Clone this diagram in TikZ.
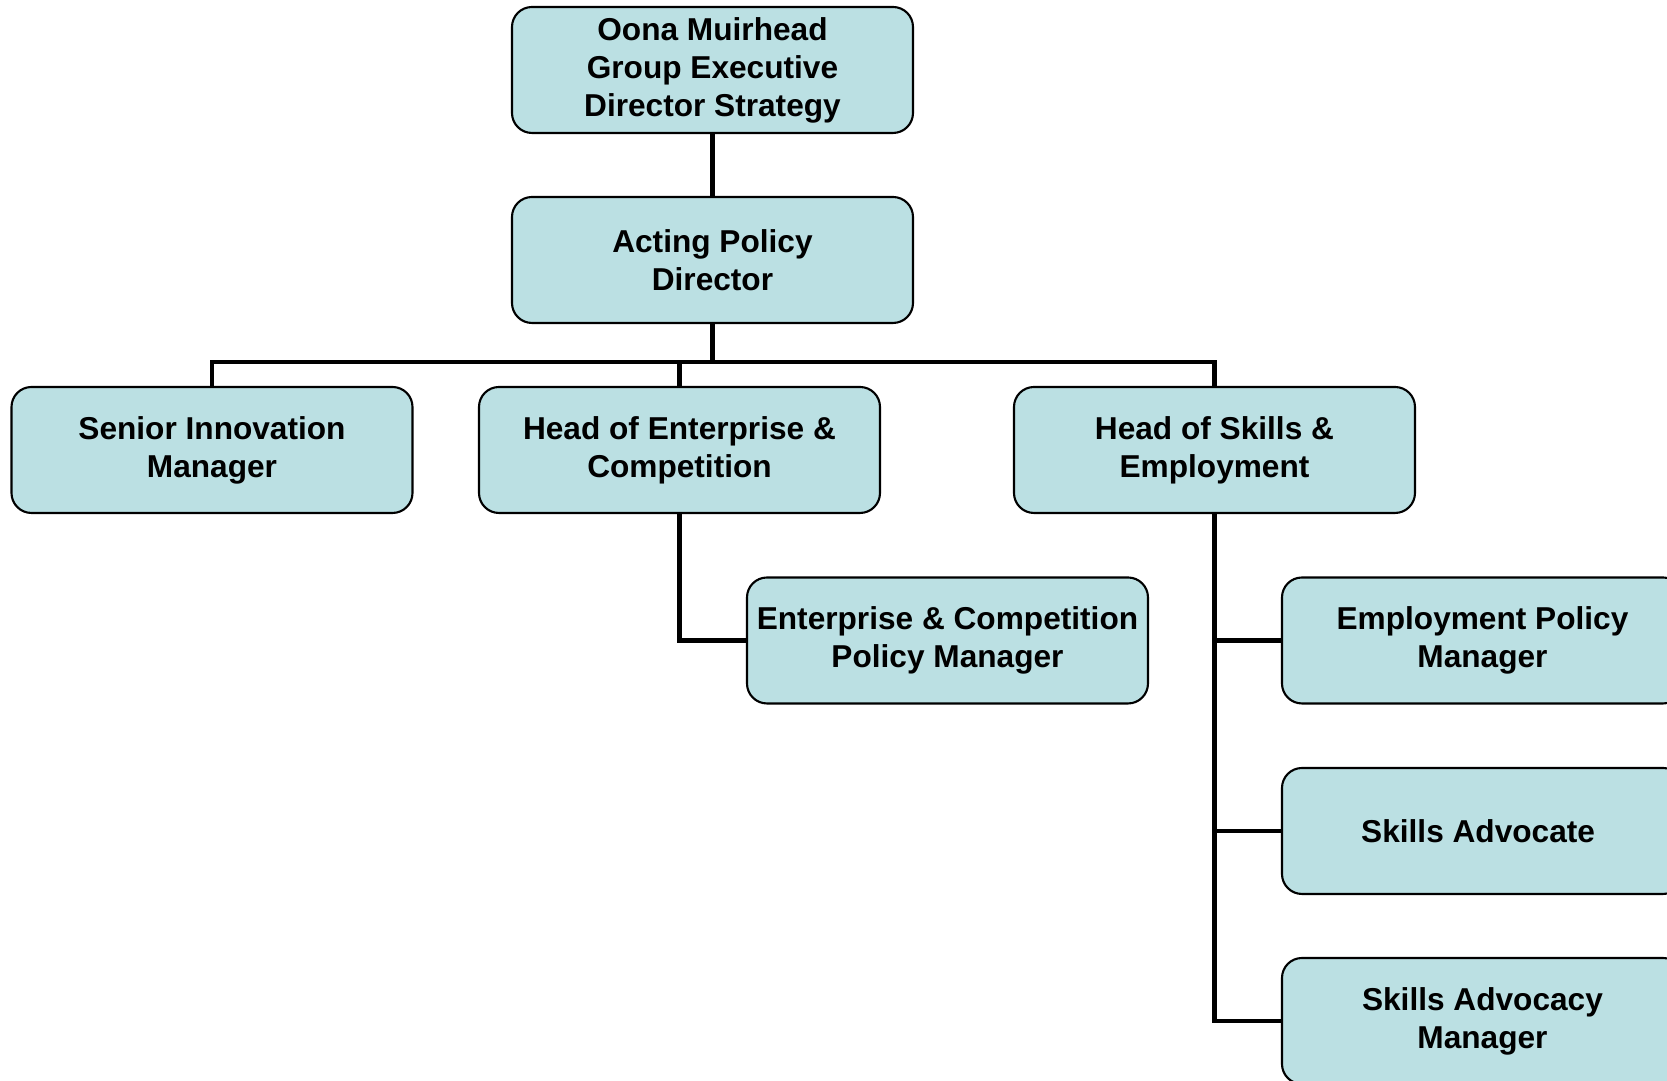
\documentclass[tikz,border=0pt]{standalone}
\usepackage{fontspec}
\setmainfont{Liberation Sans}
\definecolor{boxfill}{RGB}{187,224,227}

\begin{document}
\begin{tikzpicture}[every path/.style={line join=miter},
  post/.style={draw,rounded corners=0.2cm,fill=boxfill,line width=0.6pt,
    minimum width=4.01cm,minimum height=1.26cm,inner sep=0pt,align=center,
    font=\fontsize{9}{10.8}\selectfont\bfseries},
  link/.style={line width=1.4pt}]
\useasboundingbox (0,0) rectangle (16.67,-10.81);
\node[post] (top)    at (7.125,-0.70)  { Oona Muirhead\\Group Executive\\Director Strategy };
\node[post] (acting) at (7.125,-2.60)  { Acting Policy\\Director };
\node[post] (senior) at (2.12,-4.50)   { Senior Innovation\\Manager };
\node[post] (headec) at (6.795,-4.50)  { Head of Enterprise \&\\Competition };
\node[post] (headse) at (12.145,-4.50) { Head of Skills \&\\Employment };
\node[post] (ecpm)   at (9.475,-6.405) { Enterprise \& Competition\\Policy Manager };
\node[post] (emp)    at (14.825,-6.405){ Employment Policy\\Manager };
\node[post] (adv)    at (14.825,-8.31) { Skills Advocate };
\node[post] (advm)   at (14.825,-10.21){ Skills Advocacy\\Manager };
\coordinate (bus) at (7.125,-3.62);
\draw[link] (top)          --  (acting);
\draw[link] (acting.south) --  (bus);
\draw[link] (bus)          -| (senior.north);
\draw[link] (bus)          -| (headec.north);
\draw[link] (bus)          -| (headse.north);
\draw[link] (headec.south) |- (ecpm.west);
\draw[link] (headse.south) |- (emp.west);
\draw[link] (headse.south) |- (adv.west);
\draw[link] (headse.south) |- (advm.west);
\end{tikzpicture}
\end{document}
